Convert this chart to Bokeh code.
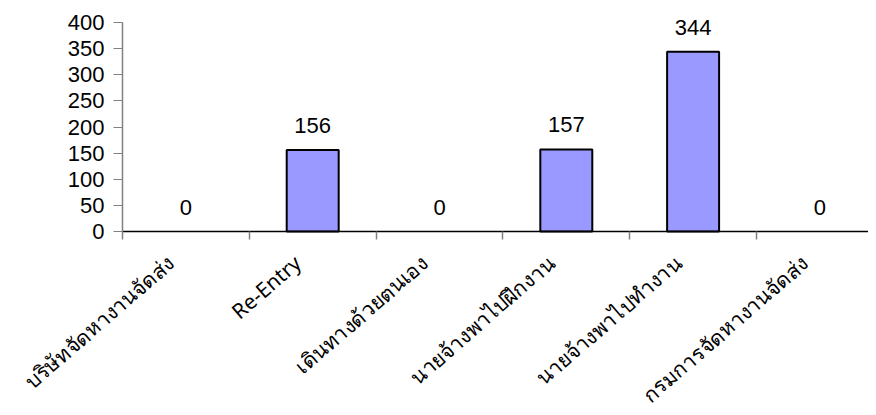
from math import radians
from bokeh.plotting import figure
from bokeh.models import ColumnDataSource, Range1d, FixedTicker, LabelSet
from bokeh.core.properties import value
from bokeh.embed import file_html
from bokeh.resources import INLINE

categories = ["บริษัทจัดหางานจัดส่ง", "Re-Entry", "เดินทางด้วยตนเอง",
              "นายจ้างพาไปฝึกงาน", "นายจ้างพาไปทำงาน", "กรมการจัดหางานจัดส่ง"]
counts = [0, 156, 0, 157, 344, 0]
y_ticks = [0, 50, 100, 150, 200, 250, 300, 350, 400]

centers = [i + 0.5 for i in range(len(categories))]
boundaries = [i for i in range(len(categories))]
label_pos = [c - 0.12 for c in centers]

src = ColumnDataSource(dict(x=centers, top=counts, label=[str(c) for c in counts],
                            lw=[2 if c > 0 else 0 for c in counts]))

W, H = 868, 407
X0, Y0 = 122, 231          # pixel position of the axes origin
PX_X, PX_Y = 126.8, 0.5225  # pixels per category / per unit

p = figure(width=W, height=H, output_backend="svg", toolbar_location=None,
           x_range=Range1d(-X0 / PX_X, (W - X0) / PX_X),
           y_range=Range1d(-(H - Y0) / PX_Y, Y0 / PX_Y),
           min_border=0)
p.outline_line_color = None
p.xgrid.visible = False
p.ygrid.visible = False
p.background_fill_color = "white"
p.border_fill_color = "white"

p.vbar(x="x", top="top", width=0.41, source=src, fill_color="#9999FF",
       line_color="black", line_width="lw")

labels = LabelSet(x="x", y="top", text="label", source=src, text_align="center",
                  text_baseline="bottom", y_offset=17,
                  text_font=value("Liberation Sans"), text_font_size="22px",
                  text_color="black")
p.add_layout(labels)

# y axis
ya = p.yaxis[0]
ya.fixed_location = 0
ya.ticker = FixedTicker(ticks=y_ticks)
ya.bounds = (0, 400)
ya.axis_line_color = "#808080"
ya.axis_line_width = 1.5
ya.major_tick_line_color = "#808080"
ya.major_tick_out = 9
ya.major_tick_in = 0
ya.minor_tick_line_color = None
ya.major_label_text_font = "Liberation Sans"
ya.major_label_text_font_size = "22px"
ya.major_label_text_color = "black"
ya.major_label_standoff = 9

# x axis
xa = p.xaxis[0]
xa.fixed_location = 0
xa.bounds = (0, (W - X0) / PX_X)
xa.ticker = FixedTicker(ticks=label_pos, minor_ticks=boundaries)
xa.major_label_overrides = {c: lab for c, lab in zip(label_pos, categories)}
xa.axis_line_color = "black"
xa.axis_line_width = 1.5
xa.major_tick_line_color = None
xa.minor_tick_line_color = "#808080"
xa.minor_tick_out = 8
xa.minor_tick_in = 0
xa.minor_tick_line_width = 1.5
xa.major_label_orientation = radians(41)
xa.major_label_text_font = "Noto Sans"
xa.major_label_text_font_size = "21px"
xa.major_label_text_color = "black"
xa.major_label_standoff = 20

open("out.html", "w").write(file_html(p, INLINE))
